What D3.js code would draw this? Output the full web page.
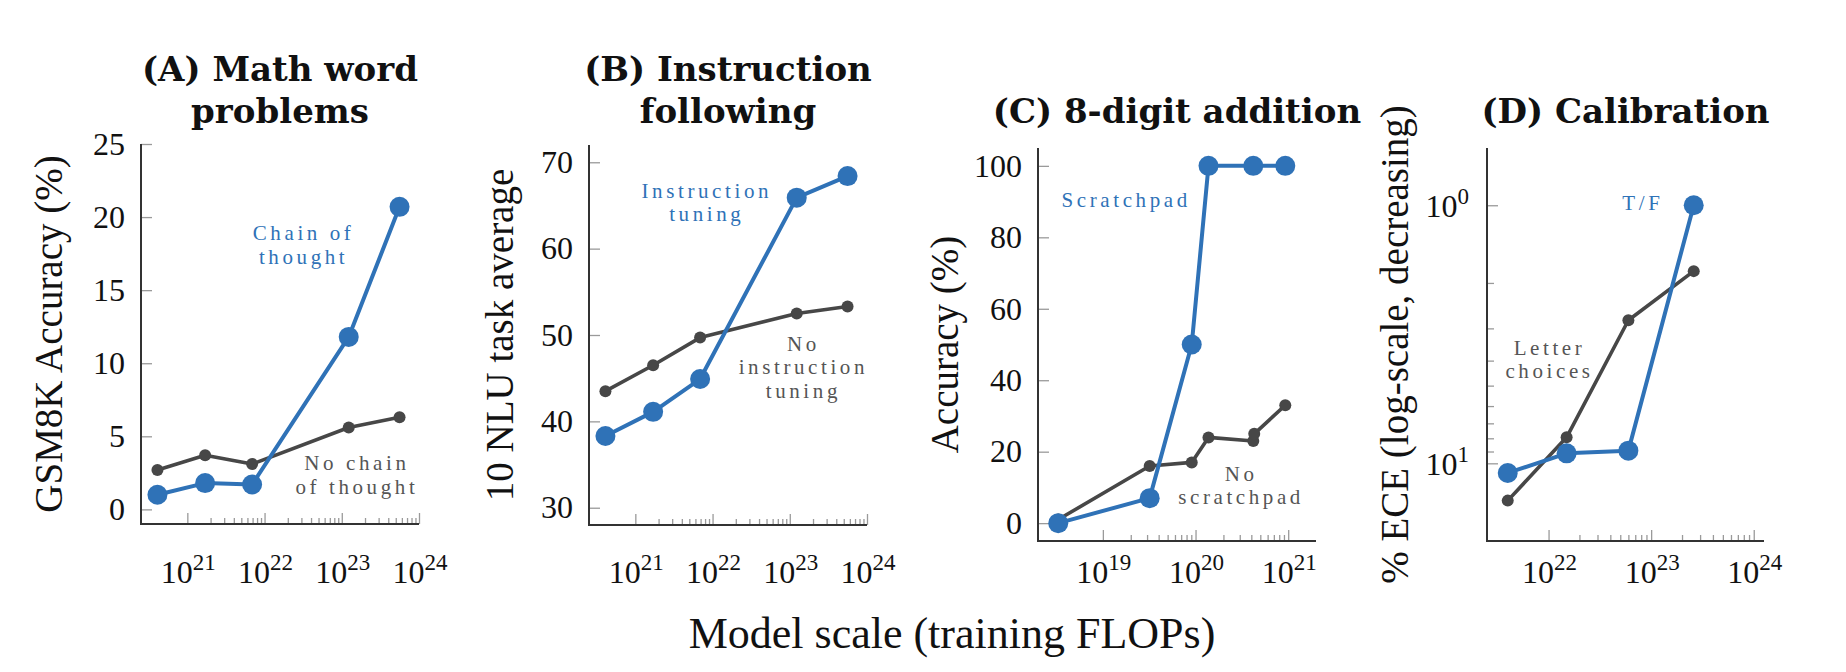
<!DOCTYPE html>
<html><head><meta charset="utf-8">
<script src="https://cdn.jsdelivr.net/npm/d3@7"></script>
<style>body{margin:0;background:#fff} svg{display:block}</style>
</head><body>
<svg id="chart" width="1846" height="672"></svg>
<script>
// ---------------- data ----------------
const mathFlops   = [4.1e20, 1.7e21, 6.9e21, 1.23e23, 5.6e23];
const mathCoT     = [1.0, 1.8, 1.7, 11.8, 20.7];
const mathNoCoT   = [2.7, 3.7, 3.1, 5.6, 6.3];

const instFlops   = [4.1e20, 1.7e21, 6.9e21, 1.23e23, 5.6e23];
const instTuned   = [38.3, 41.1, 44.9, 65.9, 68.4];
const instNoTune  = [43.5, 46.5, 49.7, 52.5, 53.3];

const addFlopsScratch = [3.3e18, 3.2e19, 9.1e19, 1.38e20, 4.2e20, 9.3e20];
const addScratch      = [0, 7, 50, 100, 100, 100];
const addFlopsNo      = [3.3e18, 3.2e19, 9.1e19, 1.38e20, 4.2e20, 4.3e20, 9.3e20];
const addNoScratch    = [1, 16, 17, 24, 23, 25, 33];

const calFlops  = [4.0e21, 1.5e22, 6.0e22, 2.6e23];
const calTF     = [10.9, 9.15, 8.93, 1.0];
const calLetter = [13.95, 7.93, 2.79, 1.80];

const xTicksA = [1e21, 1e22, 1e23, 1e24];
const xTicksB = [1e21, 1e22, 1e23, 1e24];
const xTicksC = [1e19, 1e20, 1e21];
const xTicksD = [1e22, 1e23, 1e24];
const yTicksA = [0, 5, 10, 15, 20, 25];
const yTicksB = [30, 40, 50, 60, 70];
const yTicksC = [0, 20, 40, 60, 80, 100];
const yTicksD = [1, 10];

const titlesA = ["(A) Math word", "problems"];
const titlesB = ["(B) Instruction", "following"];
const titlesC = ["(C) 8-digit addition"];
const titlesD = ["(D) Calibration"];
const yLabels = ["GSM8K Accuracy (%)", "10 NLU task average", "Accuracy (%)", "% ECE (log-scale, decreasing)"];
const xLabel = "Model scale (training FLOPs)";

// ---------------- style ----------------
const BLUE = "#2f72b7", GRAY = "#474747", GRAYTXT = "#555", AXIS = "#333", TICK = "#9a9a9a";
const SERIF = "'Liberation Serif', 'Times New Roman', serif";
const svg = d3.select("#chart");

const panels = [
  { xr:[141,419], yr:[524,144], xd:[Math.pow(10,20.4), 1e24], yd:[-1,25], log:false,
    xt:xTicksA, yt:yTicksA, titles:titlesA, ylab:yLabels[0], ylabX:62,
    blue:{x:mathFlops, y:mathCoT}, gray:{x:mathFlops, y:mathNoCoT},
    notes:[{x:Math.pow(10,22.48), y:18.4, lines:["Chain of","thought"], c:BLUE},
           {x:Math.pow(10,23.17), y:2.69, lines:["No chain","of thought"], c:GRAYTXT}] },
  { xr:[589,867], yr:[525,145], xd:[Math.pow(10,20.4), 1e24], yd:[28,72], log:false,
    xt:xTicksB, yt:yTicksB, titles:titlesB, ylab:yLabels[1], ylabX:513,
    blue:{x:instFlops, y:instTuned}, gray:{x:instFlops, y:instNoTune},
    notes:[{x:Math.pow(10,21.9), y:65.9, lines:["Instruction","tuning"], c:BLUE},
           {x:Math.pow(10,23.15), y:48.2, lines:["No","instruction","tuning"], c:GRAYTXT}] },
  { xr:[1038,1316], yr:[541,148], xd:[Math.pow(10,18.3), Math.pow(10,21.3)], yd:[-5,105], log:false,
    xt:xTicksC, yt:yTicksC, titles:titlesC, ylab:yLabels[2], ylabX:958,
    blue:{x:addFlopsScratch, y:addScratch}, gray:{x:addFlopsNo, y:addNoScratch},
    notes:[{x:Math.pow(10,19.23), y:88.6, lines:["Scratchpad"], c:BLUE},
           {x:Math.pow(10,20.47), y:11.9, lines:["No","scratchpad"], c:GRAYTXT}] },
  { xr:[1487,1764], yr:[148,541], xd:[Math.pow(10,21.4), Math.pow(10,24.1)], yd:[0.6,20], log:true,
    xt:xTicksD, yt:yTicksD, titles:titlesD, ylab:yLabels[3], ylabX:1408,
    blue:{x:calFlops, y:calTF}, gray:{x:calFlops, y:calLetter},
    notes:[{x:Math.pow(10,22.9), y:1.04, lines:["T/F"], c:BLUE},
           {x:Math.pow(10,21.99), y:3.8, lines:["Letter","choices"], c:GRAYTXT}] }
];

function minorTicks(majors) {
  const out = [];
  for (let i = 0; i < majors.length - 1; i++)
    for (let k = 2; k <= 9; k++) out.push(majors[i] * k);
  return out;
}

function powLabel(sel, v) {
  sel.append("tspan").text("10");
  sel.append("tspan").attr("dy", -13).attr("font-size", 23).text(String(Math.round(Math.log10(v))));
}

panels.forEach((p) => {
  const g = svg.append("g");
  const x = d3.scaleLog().domain(p.xd).range(p.xr);
  const y = p.log ? d3.scaleLog().domain(p.yd).range(p.yr) : d3.scaleLinear().domain(p.yd).range(p.yr);
  const yBottom = Math.max(...p.yr), yTop = Math.min(...p.yr);
  const x0 = p.xr[0], x1 = p.xr[1];

  // x ticks (major + minor), drawn upward inside
  const xMaj = g.append("g").attr("transform", `translate(0,${yBottom})`)
    .call(d3.axisBottom(x).tickValues(p.xt).tickSize(-11).tickFormat(""));
  const xMin = g.append("g").attr("transform", `translate(0,${yBottom})`)
    .call(d3.axisBottom(x).tickValues(minorTicks(p.xt)).tickSize(-6).tickFormat(""));
  [xMaj, xMin].forEach(a => { a.select(".domain").remove(); a.selectAll("line").attr("stroke", TICK).attr("stroke-width", 1.3); });

  // x tick labels 10^n
  p.xt.forEach(v => {
    const t = g.append("text").attr("x", x(v) + 1).attr("y", 583).attr("text-anchor", "middle")
      .attr("font-family", SERIF).attr("font-size", 32).attr("fill", "#111");
    powLabel(t, v);
  });

  // y ticks
  if (!p.log) {
    const ya = g.append("g").attr("transform", `translate(${x0},0)`)
      .call(d3.axisLeft(y).tickValues(p.yt).tickSize(-11).tickPadding(16));
    ya.select(".domain").remove();
    ya.selectAll("line").attr("stroke", TICK).attr("stroke-width", 1.3);
    ya.selectAll("text").attr("font-family", SERIF).attr("font-size", 32).attr("fill", "#111");
  } else {
    const ya = g.append("g").attr("transform", `translate(${x0},0)`)
      .call(d3.axisLeft(y).tickValues(p.yt).tickSize(-11).tickFormat(""));
    const yb = g.append("g").attr("transform", `translate(${x0},0)`)
      .call(d3.axisLeft(y).tickValues(minorTicks(p.yt)).tickSize(-7).tickFormat(""));
    [ya, yb].forEach(a => { a.select(".domain").remove(); a.selectAll("line").attr("stroke", TICK).attr("stroke-width", 1.3); });
    p.yt.forEach(v => {
      const t = g.append("text").attr("x", x0 - 18).attr("y", y(v) + 12).attr("text-anchor", "end")
        .attr("font-family", SERIF).attr("font-size", 32).attr("fill", "#111");
      powLabel(t, v);
    });
  }

  // axis lines
  g.append("line").attr("x1", x0).attr("x2", x0).attr("y1", yTop).attr("y2", yBottom + 1)
    .attr("stroke", AXIS).attr("stroke-width", 2);
  g.append("line").attr("x1", x0 - 1).attr("x2", x1).attr("y1", yBottom).attr("y2", yBottom)
    .attr("stroke", AXIS).attr("stroke-width", 2);

  // series
  const line = d3.line().x(d => x(d[0])).y(d => y(d[1]));
  const grayPts = p.gray.x.map((v, i) => [v, p.gray.y[i]]);
  const bluePts = p.blue.x.map((v, i) => [v, p.blue.y[i]]);
  g.append("path").datum(grayPts).attr("d", line).attr("fill", "none").attr("stroke", GRAY)
    .attr("stroke-width", 3.6).attr("stroke-linejoin", "round");
  g.selectAll(".gp").data(grayPts).join("circle").attr("cx", d => x(d[0])).attr("cy", d => y(d[1]))
    .attr("r", 6).attr("fill", GRAY);
  g.append("path").datum(bluePts).attr("d", line).attr("fill", "none").attr("stroke", BLUE)
    .attr("stroke-width", 4).attr("stroke-linejoin", "round");
  g.selectAll(".bp").data(bluePts).join("circle").attr("cx", d => x(d[0])).attr("cy", d => y(d[1]))
    .attr("r", 10).attr("fill", BLUE);

  // annotations
  p.notes.forEach(n => {
    n.lines.forEach((s, i) => {
      g.append("text").attr("x", x(n.x) + 2).attr("y", y(n.y) + i * 23.5)
        .attr("text-anchor", "middle").attr("font-family", SERIF).attr("font-size", 21)
        .attr("letter-spacing", 3.6).attr("fill", n.c).text(s);
    });
  });

  // titles
  const cx = (x0 + x1) / 2;
  const base = p.titles.length === 2 ? 81 : 123;
  p.titles.forEach((s, i) => {
    g.append("text").attr("x", cx).attr("y", base + i * 42).attr("text-anchor", "middle")
      .attr("font-family", "'DejaVu Serif', serif").attr("font-weight", "bold")
      .attr("font-size", 34).attr("fill", "#111").text(s);
  });

  // y label
  const cy = (yTop + yBottom) / 2;
  g.append("text").attr("transform", `translate(${p.ylabX},${cy}) rotate(-90)`)
    .attr("text-anchor", "middle").attr("font-family", SERIF).attr("font-size", 39)
    .attr("fill", "#111").text(p.ylab);
});

svg.append("text").attr("x", 952).attr("y", 648).attr("text-anchor", "middle")
  .attr("font-family", SERIF).attr("font-size", 44).attr("fill", "#111").text(xLabel);
</script>
</body></html>
